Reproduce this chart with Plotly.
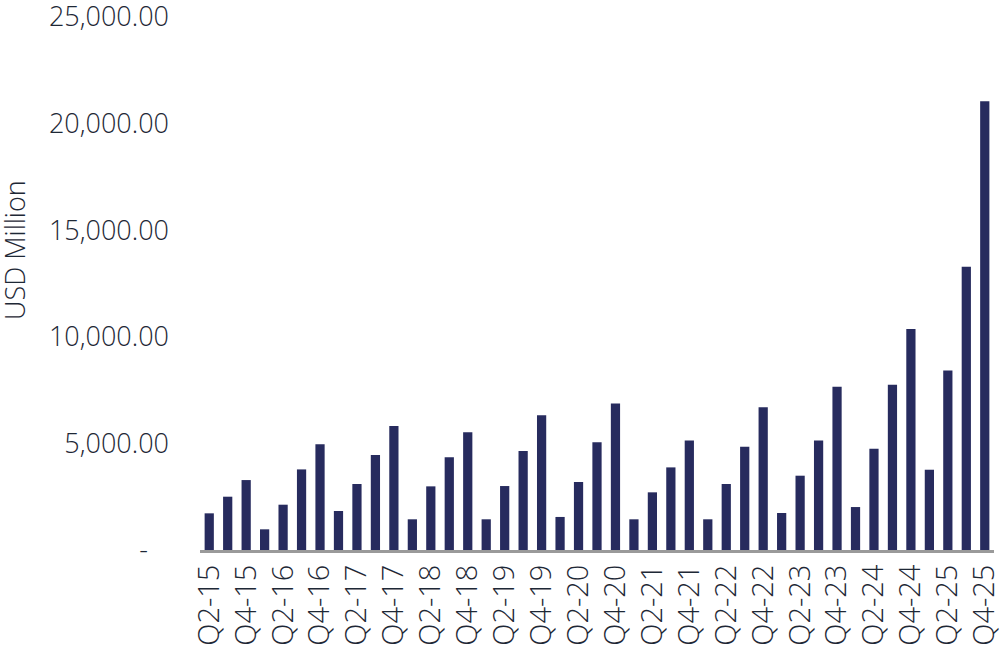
import plotly.graph_objects as go

quarters = [
    "Q2-15", "Q3-15", "Q4-15",
    "Q1-16", "Q2-16", "Q3-16", "Q4-16",
    "Q1-17", "Q2-17", "Q3-17", "Q4-17",
    "Q1-18", "Q2-18", "Q3-18", "Q4-18",
    "Q1-19", "Q2-19", "Q3-19", "Q4-19",
    "Q1-20", "Q2-20", "Q3-20", "Q4-20",
    "Q1-21", "Q2-21", "Q3-21", "Q4-21",
    "Q1-22", "Q2-22", "Q3-22", "Q4-22",
    "Q1-23", "Q2-23", "Q3-23", "Q4-23",
    "Q1-24", "Q2-24", "Q3-24", "Q4-24",
    "Q1-25", "Q2-25", "Q3-25", "Q4-25",
]
values = [
    1720, 2500, 3280,
    970, 2125, 3780, 4955,
    1830, 3095, 4455, 5815,
    1440, 2985, 4345, 5520,
    1440, 3000, 4640, 6315,
    1550, 3190, 5050, 6875,
    1440, 2705, 3875, 5140,
    1440, 3095, 4845, 6690,
    1735, 3485, 5140, 7655,
    2015, 4750, 7750, 10360,
    3765, 8425, 13280, 21050,
]
x_tick_labels = quarters[::2]
y_tick_values = [0, 5000, 10000, 15000, 20000, 25000]
y_tick_labels = ["-\u00a0\u00a0\u00a0", "5,000.00", "10,000.00", "15,000.00", "20,000.00", "25,000.00"]
y_title = "USD Million"

FONT = "Open Sans"
TEXT = "#1e2836"
BAR = "#272b5e"

fig = go.Figure(go.Bar(
    x=quarters, y=values,
    marker=dict(color=BAR, line=dict(width=0)),
))

fig.update_layout(
    width=1000, height=649,
    margin=dict(l=200, r=6, t=17, b=99, autoexpand=False),
    plot_bgcolor="white", paper_bgcolor="white",
    bargap=0.5,
    showlegend=False,
    font=dict(family=FONT, color=TEXT, size=27, weight=300),
    xaxis=dict(
        type="category",
        tickmode="array", tickvals=x_tick_labels, ticktext=x_tick_labels,
        tickangle=-90,
        tickfont=dict(family=FONT, size=29, color=TEXT, weight=300),
        showline=True, linecolor="#9a9a9a", linewidth=3,
        showgrid=False, ticks="",
        range=[-0.5, len(quarters) - 0.5],
        automargin=False,
        ticklabeloverflow="allow",
    ),
    yaxis=dict(
        range=[0, 25000],
        tickmode="array", tickvals=y_tick_values, ticktext=y_tick_labels,
        tickfont=dict(family=FONT, size=27, color=TEXT, weight=300),
        showgrid=False, zeroline=False, showline=False, ticks="",
        ticklabelstandoff=30,
        automargin=False,
        ticklabeloverflow="allow",
    ),
    annotations=[dict(
        text=y_title, textangle=-90,
        xref="paper", yref="paper",
        x=-186 / 794, y=300 / 533,
        xanchor="center", yanchor="middle",
        showarrow=False,
        font=dict(family=FONT, size=27, color=TEXT, weight=300),
    )],
)

fig.write_html(
    "out.html",
    config={"displayModeBar": False},
    post_script="document.body.style.margin='0';document.body.style.padding='0';",
)
